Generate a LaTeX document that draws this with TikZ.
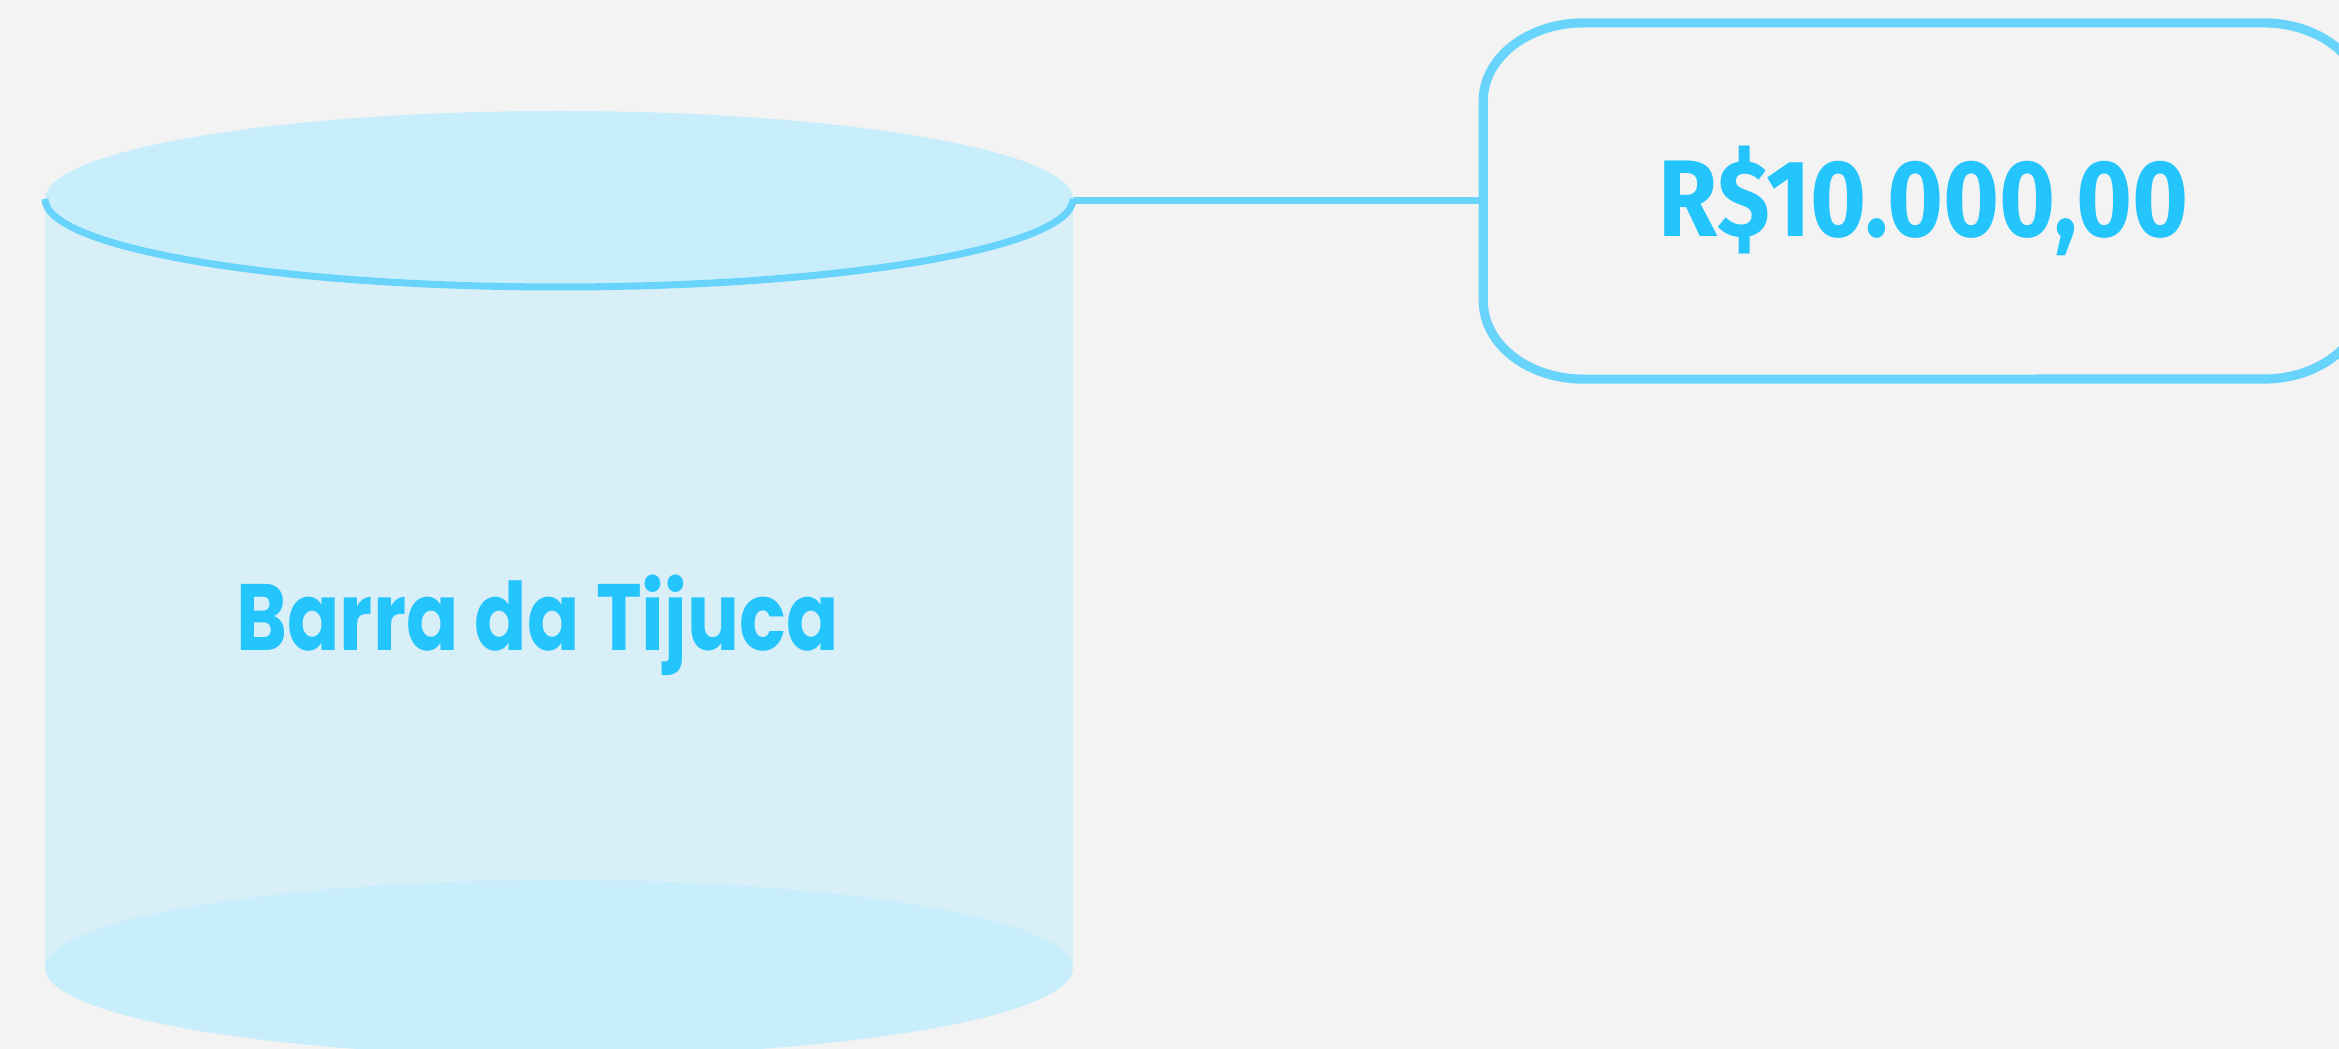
\documentclass[tikz,border=0pt]{standalone}
\usepackage{fontspec}
\setmainfont{Poppins}
\newfontfamily\regiaofont[FakeStretch=0.82]{Poppins}
\newfontfamily\valorfont[FakeStretch=0.88]{Fira Sans}
\definecolor{fundo}{HTML}{F3F3F3}
\definecolor{corpo}{HTML}{D9EFF7}
\definecolor{tampa}{HTML}{C8EEFC}
\definecolor{linha}{HTML}{69D4FB}
\definecolor{texto}{HTML}{24C4FD}

\begin{document}
\begin{tikzpicture}[x=0.01cm,y=0.01cm,line width=2pt,
    main line/.style={draw=linha,line width=2pt},
    box line/.style={draw=linha,line width=2.6pt},
    region node/.style={font=\regiaofont\bfseries\fontsize{26.8}{30}\selectfont,text=texto,inner sep=0pt},
    box node/.style={minimum width=8.73cm,minimum height=3.49cm,inner sep=0pt,text=texto,font=\valorfont\bfseries\fontsize{31}{34}\selectfont}]
    \useasboundingbox (0,0) rectangle (2339,1049);
    \clip (0,0) rectangle (2339,1049);
    \fill[fundo] (0,0) rectangle (2339,1049);

    % cilindro
    \fill[corpo] (45,81) rectangle (1073,850);
    \fill[tampa] (559,81) ellipse [x radius=514,y radius=88];
    \fill[tampa] (559,850) ellipse [x radius=514,y radius=88];
    \draw[main line] (45,850) arc[start angle=180,end angle=360,x radius=514,y radius=88];
    \coordinate (cyl) at (1073,848);
    \node[region node,anchor=base west] (barra) at (233,398) {Barra da Tijuca};

    % valor
    \node[box node] (box) at (1923.5,848) {R\$10.000,00};
    \draw[box line] ([xshift=1cm]box.north west) -- ([xshift=-1cm]box.north east)
        arc[start angle=90,end angle=0,x radius=100,y radius=78] -- ([yshift=0.78cm]box.south east)
        arc[start angle=0,end angle=-90,x radius=100,y radius=78] -- ([xshift=1cm]box.south west)
        arc[start angle=270,end angle=180,x radius=100,y radius=78] -- ([yshift=-0.78cm]box.north west)
        arc[start angle=180,end angle=90,x radius=100,y radius=78] -- cycle;

    \path[main line]
        (cyl) edge (box.west);
\end{tikzpicture}
\end{document}
